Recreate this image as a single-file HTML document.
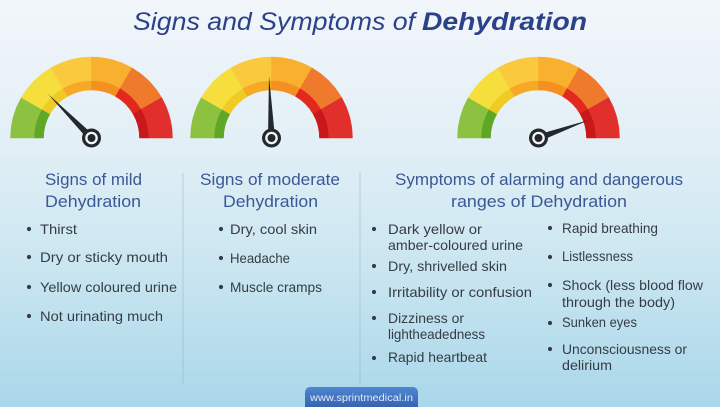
<!DOCTYPE html>
<html>
<head>
<meta charset="utf-8">
<style>
  html,body{margin:0;padding:0;width:720px;height:407px;overflow:hidden;}
  svg{display:block;}
  .h{font-family:"Liberation Sans",sans-serif;font-size:17px;fill:#3b5896;}
  .t{font-family:"Liberation Sans",sans-serif;font-size:14px;fill:#363c44;}
</style>
</head>
<body>
<svg width="720" height="407" viewBox="0 0 720 407" xmlns="http://www.w3.org/2000/svg">
  <defs>
    <linearGradient id="bg" x1="0" y1="0" x2="0" y2="1">
      <stop offset="0" stop-color="#f2f6fa"/>
      <stop offset="0.35" stop-color="#e2eff6"/>
      <stop offset="0.6" stop-color="#cfe8f2"/>
      <stop offset="1" stop-color="#a9d7e9"/>
    </linearGradient>
    <linearGradient id="btn" x1="0" y1="0" x2="0" y2="1">
      <stop offset="0" stop-color="#4f86d2"/>
      <stop offset="1" stop-color="#2d5aa8"/>
    </linearGradient>
    <g id="gauge">
      <path d="M-81,0 A81,81 0 0 1 -70.15,-40.5 L-49.36,-28.5 A57,57 0 0 0 -57,0 Z" fill="#8dc140" stroke="#8dc140" stroke-width="0.5"/>
      <path d="M-70.15,-40.5 A81,81 0 0 1 -40.5,-70.15 L-28.5,-49.36 A57,57 0 0 0 -49.36,-28.5 Z" fill="#f6df3c" stroke="#f6df3c" stroke-width="0.5"/>
      <path d="M-40.5,-70.15 A81,81 0 0 1 0,-81 L0,-57 A57,57 0 0 0 -28.5,-49.36 Z" fill="#fbc93d" stroke="#fbc93d" stroke-width="0.5"/>
      <path d="M0,-81 A81,81 0 0 1 40.5,-70.15 L28.5,-49.36 A57,57 0 0 0 0,-57 Z" fill="#f9b02e" stroke="#f9b02e" stroke-width="0.5"/>
      <path d="M40.5,-70.15 A81,81 0 0 1 70.15,-40.5 L49.36,-28.5 A57,57 0 0 0 28.5,-49.36 Z" fill="#f07a2b" stroke="#f07a2b" stroke-width="0.5"/>
      <path d="M70.15,-40.5 A81,81 0 0 1 81,0 L57,0 A57,57 0 0 0 49.36,-28.5 Z" fill="#e1302c" stroke="#e1302c" stroke-width="0.5"/>
      <path d="M-57,0 A57,57 0 0 1 -49.36,-28.5 L-41.57,-24 A48,48 0 0 0 -48,0 Z" fill="#5ea727" stroke="#5ea727" stroke-width="0.5"/>
      <path d="M-49.36,-28.5 A57,57 0 0 1 -28.5,-49.36 L-24,-41.57 A48,48 0 0 0 -41.57,-24 Z" fill="#efcb24" stroke="#efcb24" stroke-width="0.5"/>
      <path d="M-28.5,-49.36 A57,57 0 0 1 0,-57 L0,-48 A48,48 0 0 0 -24,-41.57 Z" fill="#f6a924" stroke="#f6a924" stroke-width="0.5"/>
      <path d="M0,-57 A57,57 0 0 1 28.5,-49.36 L24,-41.57 A48,48 0 0 0 0,-48 Z" fill="#f3901f" stroke="#f3901f" stroke-width="0.5"/>
      <path d="M28.5,-49.36 A57,57 0 0 1 49.36,-28.5 L41.57,-24 A48,48 0 0 0 24,-41.57 Z" fill="#e2281f" stroke="#e2281f" stroke-width="0.5"/>
      <path d="M49.36,-28.5 A57,57 0 0 1 57,0 L48,0 A48,48 0 0 0 41.57,-24 Z" fill="#c8181b" stroke="#c8181b" stroke-width="0.5"/>
    </g>
    <g id="pivot">
      <circle r="9.5" fill="#23282e"/>
      <circle r="6.3" fill="#f4f6f8"/>
      <circle r="4" fill="#23282e"/>
    </g>
  </defs>

  <rect x="0" y="0" width="720" height="407" fill="url(#bg)"/>
  <rect x="0" y="147" width="720" height="8" fill="#ffffff" opacity="0.1"/>

  <text x="133" y="30" font-family="'Liberation Sans',sans-serif" font-size="25" font-style="italic" fill="#2b4189" textLength="282" lengthAdjust="spacingAndGlyphs">Signs and Symptoms of</text>
  <text x="422" y="30" font-family="'Liberation Sans',sans-serif" font-size="25" font-style="italic" font-weight="bold" fill="#2b4189" textLength="165" lengthAdjust="spacingAndGlyphs">Dehydration</text>

  <use href="#gauge" transform="translate(91.5,138)"/>
  <use href="#gauge" transform="translate(271.5,138)"/>
  <use href="#gauge" transform="translate(538.5,138)"/>

  <polygon points="48,94 94.0,135.5 89.0,140.5" fill="#23282e"/>
  <polygon points="269,76 275,137.9 268,138.1" fill="#23282e"/>
  <polygon points="589,120 539.7,141.3 537.3,134.7" fill="#23282e"/>

  <use href="#pivot" transform="translate(91.5,138)"/>
  <use href="#pivot" transform="translate(271.5,138)"/>
  <use href="#pivot" transform="translate(538.5,138)"/>

  <line x1="183" y1="173" x2="183" y2="383" stroke="#8fa9ba" stroke-opacity="0.45" stroke-width="1"/>
  <line x1="360" y1="172" x2="360" y2="386" stroke="#8fa9ba" stroke-opacity="0.45" stroke-width="1"/>

  <text class="h" x="45" y="185" textLength="97" lengthAdjust="spacingAndGlyphs">Signs of mild</text>
  <text class="h" x="45" y="207" textLength="96" lengthAdjust="spacingAndGlyphs">Dehydration</text>
  <g fill="#363c44">
    <circle cx="29" cy="229" r="2.1"/>
    <circle cx="29" cy="257" r="2.1"/>
    <circle cx="29" cy="287" r="2.1"/>
    <circle cx="29" cy="316" r="2.1"/>
  </g>
  <text class="t" x="40" y="234" textLength="37" lengthAdjust="spacingAndGlyphs">Thirst</text>
  <text class="t" x="40" y="262" textLength="128" lengthAdjust="spacingAndGlyphs">Dry or sticky mouth</text>
  <text class="t" x="40" y="292" textLength="137" lengthAdjust="spacingAndGlyphs">Yellow coloured urine</text>
  <text class="t" x="40" y="321" textLength="123" lengthAdjust="spacingAndGlyphs">Not urinating much</text>

  <text class="h" x="200" y="185" textLength="140" lengthAdjust="spacingAndGlyphs">Signs of moderate</text>
  <text class="h" x="223" y="207" textLength="95" lengthAdjust="spacingAndGlyphs">Dehydration</text>
  <g fill="#363c44">
    <circle cx="221" cy="229" r="2.1"/>
    <circle cx="221" cy="258" r="2.1"/>
    <circle cx="221" cy="287" r="2.1"/>
  </g>
  <text class="t" x="230" y="234" textLength="87" lengthAdjust="spacingAndGlyphs">Dry, cool skin</text>
  <text class="t" x="230" y="263" textLength="60" lengthAdjust="spacingAndGlyphs">Headache</text>
  <text class="t" x="230" y="292" textLength="92" lengthAdjust="spacingAndGlyphs">Muscle cramps</text>

  <text class="h" x="395" y="185" textLength="288" lengthAdjust="spacingAndGlyphs">Symptoms of alarming and dangerous</text>
  <text class="h" x="451" y="207" textLength="176" lengthAdjust="spacingAndGlyphs">ranges of Dehydration</text>
  <g fill="#363c44">
    <circle cx="374" cy="229" r="2.1"/>
    <circle cx="374" cy="266" r="2.1"/>
    <circle cx="374" cy="292" r="2.1"/>
    <circle cx="374" cy="318" r="2.1"/>
    <circle cx="374" cy="358" r="2.1"/>
    <circle cx="550" cy="228" r="2.1"/>
    <circle cx="550" cy="257" r="2.1"/>
    <circle cx="550" cy="285" r="2.1"/>
    <circle cx="550" cy="323" r="2.1"/>
    <circle cx="550" cy="349" r="2.1"/>
  </g>
  <text class="t" x="388" y="234" textLength="94" lengthAdjust="spacingAndGlyphs">Dark yellow or</text>
  <text class="t" x="388" y="250" textLength="135" lengthAdjust="spacingAndGlyphs">amber-coloured urine</text>
  <text class="t" x="388" y="271" textLength="119" lengthAdjust="spacingAndGlyphs">Dry, shrivelled skin</text>
  <text class="t" x="388" y="297" textLength="144" lengthAdjust="spacingAndGlyphs">Irritability or confusion</text>
  <text class="t" x="388" y="323" textLength="76" lengthAdjust="spacingAndGlyphs">Dizziness or</text>
  <text class="t" x="388" y="339" textLength="97" lengthAdjust="spacingAndGlyphs">lightheadedness</text>
  <text class="t" x="388" y="362" textLength="99" lengthAdjust="spacingAndGlyphs">Rapid heartbeat</text>

  <text class="t" x="562" y="233" textLength="96" lengthAdjust="spacingAndGlyphs">Rapid breathing</text>
  <text class="t" x="562" y="261" textLength="71" lengthAdjust="spacingAndGlyphs">Listlessness</text>
  <text class="t" x="562" y="290" textLength="141" lengthAdjust="spacingAndGlyphs">Shock (less blood flow</text>
  <text class="t" x="562" y="307" textLength="113" lengthAdjust="spacingAndGlyphs">through the body)</text>
  <text class="t" x="562" y="327" textLength="75" lengthAdjust="spacingAndGlyphs">Sunken eyes</text>
  <text class="t" x="562" y="354" textLength="125" lengthAdjust="spacingAndGlyphs">Unconsciousness or</text>
  <text class="t" x="562" y="370" textLength="50" lengthAdjust="spacingAndGlyphs">delirium</text>

  <rect x="305" y="387" width="113" height="26" rx="5" ry="5" fill="url(#btn)"/>
  <text x="310" y="401" font-family="'Liberation Sans',sans-serif" font-size="10" fill="#e3ebf7" textLength="103" lengthAdjust="spacingAndGlyphs">www.sprintmedical.in</text>
</svg>
</body>
</html>
